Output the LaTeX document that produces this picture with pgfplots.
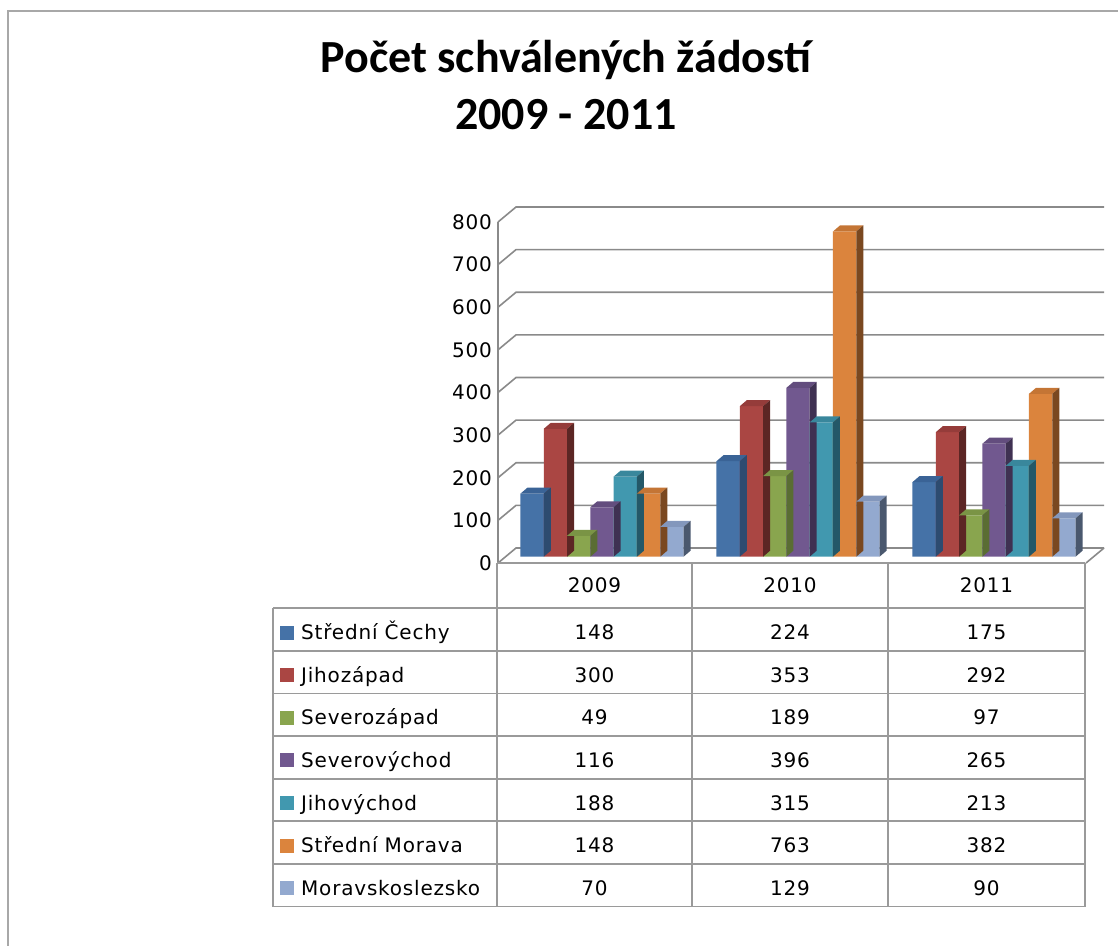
\documentclass[border=0pt]{standalone}
\usepackage{pgfplots}
\pgfplotsset{compat=1.18}
\usepackage{pgfplotstable}
\usepackage{fontspec}
\setmainfont{DejaVu Sans}
\newfontfamily\dvs{DejaVu Sans}[LetterSpace=4]
\newfontfamily\calfont{Carlito}
\newcommand\tickfont{\dvs\fontsize{20}{24}\selectfont}

\definecolor{f0}{HTML}{4572A7}\definecolor{s0}{HTML}{2D4B70}\definecolor{t0}{HTML}{3A6396}
\definecolor{f1}{HTML}{AA4643}\definecolor{s1}{HTML}{5C2624}\definecolor{t1}{HTML}{953C3A}
\definecolor{f2}{HTML}{89A54E}\definecolor{s2}{HTML}{5A6D33}\definecolor{t2}{HTML}{7A9445}
\definecolor{f3}{HTML}{71588F}\definecolor{s3}{HTML}{3F3152}\definecolor{t3}{HTML}{634D7E}
\definecolor{f4}{HTML}{4198AF}\definecolor{s4}{HTML}{245868}\definecolor{t4}{HTML}{39879C}
\definecolor{f5}{HTML}{DB843D}\definecolor{s5}{HTML}{7A4820}\definecolor{t5}{HTML}{C47535}
\definecolor{f6}{HTML}{93A9CF}\definecolor{s6}{HTML}{4A586E}\definecolor{t6}{HTML}{8397BC}
\definecolor{gridc}{HTML}{8A8A8A}
\definecolor{tabc}{HTML}{9A9A9A}
\definecolor{bordc}{HTML}{A8A8A8}

\pgfplotstableread{
x year SC JZ SZ SV JV SM MS
0 2009 148 300 49 116 188 148 70
1 2010 224 353 189 396 315 763 129
2 2011 175 292 97 265 213 382 90
}\data

\pgfdeclareplotmark{nothing}{}
\newdimen\bfL \newdimen\bfR \newdimen\bfLd \newdimen\bfRd \newdimen\bfH \newdimen\bfB
\newcommand\barfaces[4]{%
  \begingroup
    \pgfkeys{/pgf/fpu=true,/pgf/fpu/output format=fixed}%
    \pgfmathparse{\barv*0.42625}%
    \global\let\barh\pgfmathresult
  \endgroup
  \pgfscope
  \bfL=#1pt \bfR=#2pt \bfH=\barh pt
  \bfLd=\bfL \advance\bfLd by 7pt
  \bfRd=\bfR \advance\bfRd by 7pt
  \bfB=6pt \advance\bfB by -\bfH
  \pgfpathmoveto{\pgfqpoint{\bfL}{0pt}}%
  \pgfpathlineto{\pgfqpoint{\bfR}{0pt}}%
  \pgfpathlineto{\pgfqpoint{\bfRd}{6pt}}%
  \pgfpathlineto{\pgfqpoint{\bfLd}{6pt}}%
  \pgfpathclose
  \pgfsetfillcolor{#4}\pgfusepath{fill}%
  \pgfpathmoveto{\pgfqpoint{\bfR}{0pt}}%
  \pgfpathlineto{\pgfqpoint{\bfRd}{6pt}}%
  \pgfpathlineto{\pgfqpoint{\bfRd}{\bfB}}%
  \pgfpathlineto{\pgfqpoint{\bfR}{-\bfH}}%
  \pgfpathclose
  \pgfsetfillcolor{#3}\pgfusepath{fill}%
  \endpgfscope
}
\pgfplotsset{
  faces/.style n args={5}{scatter, only marks, mark=nothing,
    visualization depends on={\thisrow{#5} \as \barv},
    scatter/@pre marker code/.code={\barfaces{#1}{#2}{#3}{#4}},
    scatter/@post marker code/.code={}},
  front/.style n args={2}{ybar, bar width=23.3pt, bar shift=#1pt, fill=#2, draw=none},
}

\begin{document}
\begin{tikzpicture}[x=1pt,y=1pt]
\useasboundingbox (0,0) rectangle (1118,945);
% frame
\draw[bordc, line width=2pt] (7.5,-5) -- (7.5,934) -- (1125,934);
% title
\node[anchor=base, inner sep=0pt] at (566,872) {\calfont\bfseries\fontsize{46}{55}\selectfont Počet schválených žádostí};
\node[anchor=base, inner sep=0pt] at (566,815) {\calfont\bfseries\fontsize{46}{55}\selectfont 2009 - 2011};

% front plane with walls and tick labels
\begin{axis}[at={(498pt,382pt)}, anchor=south west, scale only axis,
  width=588pt, height=341pt, xmin=-0.5, xmax=2.5, ymin=0, ymax=800,
  ytick={0,100,...,800}, xtick=\empty, axis line style={draw=none},
  major tick length=0pt,
  /pgf/number format/assume math mode=true,
  yticklabel style={font=\tickfont, inner sep=0pt, xshift=-6pt},
  clip=false]
\pgfplotsinvokeforeach{0,100,...,800}{
  \draw[gridc, line width=1.6pt] (axis cs:-0.5,#1) -- ++(18pt,15pt) -- ([xshift=18pt,yshift=15pt]axis cs:2.5,#1);
}
\draw[gridc, line width=1.6pt] (axis cs:-0.5,0) -- (axis cs:-0.5,800);
\draw[gridc, line width=1.6pt] (axis cs:2.5,0) -- ++(18pt,15pt);
\end{axis}

% bars
\begin{axis}[at={(504pt,388.3pt)}, anchor=south west, scale only axis,
  width=588pt, height=341pt, xmin=-0.5, xmax=2.5, ymin=0, ymax=800,
  hide axis, clip=false]
\addplot[front={-69.9}{f0}] table[x=x,y=SC]{\data};
\addplot[faces={-81.55}{-58.25}{s0}{t0}{SC}] table[x=x,y=SC]{\data};
\addplot[front={-46.6}{f1}] table[x=x,y=JZ]{\data};
\addplot[faces={-58.25}{-34.95}{s1}{t1}{JZ}] table[x=x,y=JZ]{\data};
\addplot[front={-23.3}{f2}] table[x=x,y=SZ]{\data};
\addplot[faces={-34.95}{-11.65}{s2}{t2}{SZ}] table[x=x,y=SZ]{\data};
\addplot[front={0}{f3}] table[x=x,y=SV]{\data};
\addplot[faces={-11.65}{11.65}{s3}{t3}{SV}] table[x=x,y=SV]{\data};
\addplot[front={23.3}{f4}] table[x=x,y=JV]{\data};
\addplot[faces={11.65}{34.95}{s4}{t4}{JV}] table[x=x,y=JV]{\data};
\addplot[front={46.6}{f5}] table[x=x,y=SM]{\data};
\addplot[faces={34.95}{58.25}{s5}{t5}{SM}] table[x=x,y=SM]{\data};
\addplot[front={69.9}{f6}] table[x=x,y=MS]{\data};
\addplot[faces={58.25}{81.55}{s6}{t6}{MS}] table[x=x,y=MS]{\data};
\end{axis}

% data table
\begin{scope}[tabc, line width=1.8pt]
\draw (497,382) -- (1085,382);
\foreach \yy in {336.7,294.1,251.5,208.9,166.3,123.7,81.1,38.5}
  \draw (273,\yy) -- (1085,\yy);
\draw (273,336.7) -- (273,38.5);
\foreach \xx in {497,692,888,1085}
  \draw (\xx,382) -- (\xx,38.5);
\end{scope}
\foreach \xc [count=\j from 0] in {594.5,790,986.5}
  \node[anchor=base, inner sep=0pt] at (\xc,352) {\tickfont\pgfplotstablegetelem{\j}{year}\of\data\pgfplotsretval};
\foreach \col/\name [count=\i from 0] in {SC/Střední Čechy,JZ/Jihozápad,SZ/Severozápad,SV/Severovýchod,JV/Jihovýchod,SM/Střední Morava,MS/Moravskoslezsko}{
  \pgfmathsetmacro\yc{336.7-42.6*(\i+0.5)}
  \fill[f\i] (280,\yc-10) rectangle (294,\yc+4);
  \node[anchor=base west, inner sep=0pt] at (301,\yc-10) {\tickfont\name};
  \foreach \xc [count=\j from 0] in {594.5,790,986.5}
    \node[anchor=base, inner sep=0pt] at (\xc,\yc-10) {\tickfont\pgfplotstablegetelem{\j}{\col}\of\data\pgfplotsretval};
}
\end{tikzpicture}
\end{document}
